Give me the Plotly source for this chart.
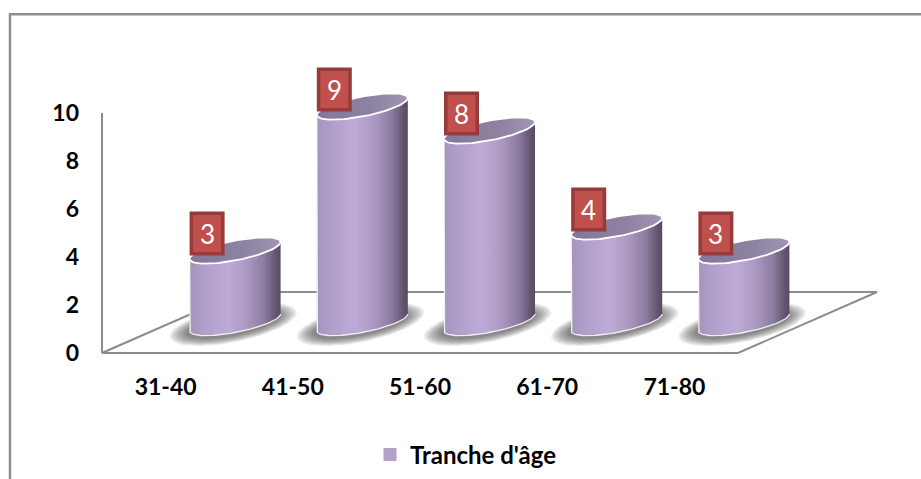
import numpy as np
import plotly.graph_objects as go

# ---- data -------------------------------------------------------------
categories = ["31-40", "41-50", "51-60", "61-70", "71-80"]
counts = [3, 9, 8, 4, 3]
series_name = "Tranche d'âge"
y_ticks = [0, 2, 4, 6, 8, 10]

# ---- page / scale geometry (pixels) ----------------------------------
W, H = 921, 479
PX_X = 127.2          # pixels per category step
PX_Y = 24.0           # pixels per count unit
ORIGIN = (102, 353)   # pixel position of (x=-0.5, y=0), the front-left floor corner
M_L, M_R, M_T, M_B = 89, 16, 20, 116
PLOT_W = W - M_L - M_R
PLOT_H = H - M_T - M_B

x_min = -0.5 - (ORIGIN[0] - M_L) / PX_X
x_max = -0.5 + (W - M_R - ORIGIN[0]) / PX_X
y_max = (ORIGIN[1] - M_T) / PX_Y
y_min = -(H - M_B - ORIGIN[1]) / PX_Y

# oblique depth of the floor, in axis units
DEPTH_X = 139 / PX_X
DEPTH_Y = 61 / PX_Y
# cylinder cross-section (conjugate semi-diameters of the ellipse)
R = 45.5 / PX_X       # horizontal half width
S = 8.5 / PX_Y        # rise of the right tangent point
HV = 10.0 / PX_Y      # vertical half-depth at the centre
Y_MAX_AXIS = max(y_ticks)

FONT = "Lato"
GRID_GREY = "#8C8C8C"


def ellipse(cx, cy, t, su=1.0, sv=1.0):
    x = cx + su * R * np.cos(t)
    y = cy + su * S * np.cos(t) - sv * HV * np.sin(t)
    return x, y


fig = go.Figure()

# ---- floor and vertical axis -----------------------------------------
n = len(categories)
fx = [-0.5, n - 0.5, n - 0.5 + DEPTH_X, -0.5 + DEPTH_X, -0.5]
fy = [0, 0, DEPTH_Y, DEPTH_Y, 0]
fig.add_trace(go.Scatter(x=fx, y=fy, mode="lines",
                         line=dict(color=GRID_GREY, width=2),
                         hoverinfo="skip", showlegend=False))
fig.add_trace(go.Scatter(x=[-0.5, -0.5], y=[0, Y_MAX_AXIS], mode="lines",
                         line=dict(color=GRID_GREY, width=2),
                         hoverinfo="skip", showlegend=False))

centres = [(i + 0.5 * DEPTH_X, 0.5 * DEPTH_Y) for i in range(n)]

# ---- soft floor shadows ----------------------------------------------
t_full = np.linspace(0, 2 * np.pi, 90)
for cx, cy in centres:
    for k in range(9):
        f = k / 8
        sx, sy = ellipse(cx - 0.015, cy - 0.08, t_full,
                         su=1.04 + 0.36 * f, sv=1.15 + 0.65 * f)
        fig.add_trace(go.Scatter(x=sx, y=sy, mode="lines", fill="toself",
                                 fillcolor="rgba(60,60,60,0.09)",
                                 line=dict(width=0), hoverinfo="skip",
                                 showlegend=False))

body_scale = [[0.0, "#A595BD"], [0.2, "#B3A1CC"], [0.42, "#BEAAD6"],
              [0.62, "#AD9AC3"], [0.82, "#8C7CA0"], [0.95, "#615570"],
              [1.0, "#574B63"]]
top_scale = [[0.0, "#83789A"], [0.6, "#8E82A2"], [1.0, "#A195B4"]]

# ---- cylinders --------------------------------------------------------
t_bot = np.linspace(np.pi, 0, 80)
t_top = np.linspace(0, np.pi, 80)
for (cx, cy), v in zip(centres, counts):
    ty = cy + v
    bx, by = ellipse(cx, cy, t_bot)
    tx, tyy = ellipse(cx, ty, t_top)
    xs = np.concatenate([bx, tx, bx[:1]])
    ys = np.concatenate([by, tyy, by[:1]])
    fig.add_trace(go.Scatter(x=xs, y=ys, mode="lines", fill="toself",
                             fillgradient=dict(type="horizontal", colorscale=body_scale),
                             line=dict(width=0), hoverinfo="skip", showlegend=False))
    # white rim on left edge and front base
    ox = np.concatenate([[cx - R], bx])
    oy = np.concatenate([[ty - S], by])
    fig.add_trace(go.Scatter(x=ox, y=oy, mode="lines",
                             line=dict(color="rgba(255,255,255,0.85)", width=1.3),
                             hoverinfo="skip", showlegend=False))
    # top face
    ex, ey = ellipse(cx, ty, t_full)
    fig.add_trace(go.Scatter(x=ex, y=ey, mode="lines", fill="toself",
                             fillgradient=dict(type="horizontal", colorscale=top_scale),
                             line=dict(color="white", width=1.8),
                             hoverinfo="skip", showlegend=False))

# legend entry
fig.add_trace(go.Scatter(x=[None], y=[None], mode="markers", name=series_name,
                         marker=dict(symbol="square", size=13, color="#B3A2C7"),
                         showlegend=True))

# ---- value labels -----------------------------------------------------
BOX_W = 35 / PX_X
BOX_H = 44 / PX_Y
BOX_GAP = 1.06
INSET_X = 3.5 / PX_X
INSET_Y = 3.5 / PX_Y
for (cx, cy), v in zip(centres, counts):
    x0 = cx - R
    y0 = v + BOX_GAP
    fig.add_shape(type="rect", xref="x", yref="y", x0=x0, x1=x0 + BOX_W,
                  y0=y0, y1=y0 + BOX_H, fillcolor="#963B39", line=dict(width=0))
    fig.add_shape(type="rect", xref="x", yref="y", x0=x0 + INSET_X,
                  x1=x0 + BOX_W - INSET_X, y0=y0 + INSET_Y, y1=y0 + BOX_H - INSET_Y,
                  fillcolor="#C0504D", line=dict(width=0))
    fig.add_annotation(x=x0 + BOX_W / 2, y=y0 + BOX_H / 2, text=str(v),
                       showarrow=False, xref="x", yref="y",
                       font=dict(family=FONT, size=26, color="white"))

# ---- outer chart frame ------------------------------------------------
def px_to_paper_x(px):
    return (px - M_L) / PLOT_W


def px_to_paper_y(py):
    return (H - M_B - py) / PLOT_H


fig.add_shape(type="rect", xref="paper", yref="paper",
              x0=px_to_paper_x(10), x1=px_to_paper_x(940),
              y0=px_to_paper_y(500), y1=px_to_paper_y(14.3),
              line=dict(color="#8E8E8E", width=2.5), fillcolor="rgba(0,0,0,0)",
              layer="below")

tick_font = dict(family=FONT, size=23, color="black", weight="bold")
fig.update_layout(
    width=W, height=H,
    margin=dict(l=M_L, r=M_R, t=M_T, b=M_B, autoexpand=False),
    paper_bgcolor="white", plot_bgcolor="rgba(0,0,0,0)",
    xaxis=dict(range=[x_min, x_max], tickmode="array", tickvals=list(range(n)),
               ticktext=categories, showgrid=False, zeroline=False, showline=False,
               ticks="", tickfont=tick_font, ticklabelstandoff=8, fixedrange=True,
               automargin=False),
    yaxis=dict(range=[y_min, y_max], tickmode="array", tickvals=y_ticks,
               showgrid=False, zeroline=False, showline=False, ticks="",
               tickfont=tick_font, ticklabelstandoff=9, fixedrange=True,
               automargin=False),
    legend=dict(orientation="h", x=px_to_paper_x(370), y=px_to_paper_y(455),
                xanchor="left", yanchor="middle",
                font=dict(family=FONT, size=24, color="black", weight="bold"),
                bgcolor="rgba(0,0,0,0)"),
    showlegend=True,
)

fig.write_html("out.html")
